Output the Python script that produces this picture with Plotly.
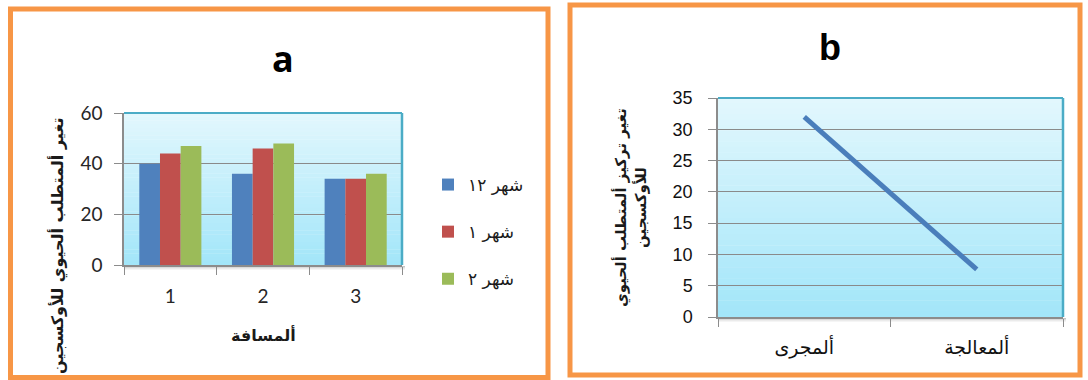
import plotly.graph_objects as go

# ---------------- data ----------------
distance = ["1", "2", "3"]
month_names = ["شهر ١٢", "شهر ١", "شهر ٢"]
month12 = [40, 36, 34]
month1 = [44, 46, 34]
month2 = [47, 48, 36]

sites = ["ألمجرى", "ألمعالجة"]
bod_change = [32, 7.6]

bar_colors = ["#4f81bd", "#c0504d", "#9bbb59"]
W, H = 1088, 380

def px_x(v):
    return v / W

def px_y(v):
    return 1 - v / H

fig = go.Figure()
for name, vals, col in zip(month_names, [month12, month1, month2], bar_colors):
    fig.add_trace(go.Bar(x=distance, y=vals, name=name, marker=dict(color=col, line=dict(width=0)),
                         xaxis="x", yaxis="y", legendgroup=name))

fig.add_trace(go.Scatter(x=sites, y=bod_change, mode="lines", line=dict(color="#4a7ebb", width=5),
                         xaxis="x2", yaxis="y2", showlegend=False))

# domains (pixel measured)
a_x = [px_x(124), px_x(402)]
a_y = [px_y(265), px_y(113)]
b_x = [px_x(718), px_x(1063)]
b_y = [px_y(317), px_y(98)]

tick_font_a = dict(family="Lato, Carlito, sans-serif", size=19, color="#262626")
tick_font_b = dict(family="Liberation Sans, Arial", size=18, color="#111111")
arab = "DejaVu Sans"

shapes = []
# gradient plot backgrounds
def gradient(xref, yref, n=40, top=(0xe2, 0xf7, 0xfd), bot=(0xa3, 0xe6, 0xf9)):
    out = []
    for i in range(n):
        t = i / (n - 1)
        c = tuple(round(top[k] + (bot[k] - top[k]) * t) for k in range(3))
        out.append(dict(type="rect", xref=xref, yref=yref, x0=0, x1=1,
                        y0=1 - (i + 1) / n, y1=1 - i / n + 0.002,
                        fillcolor="rgb(%d,%d,%d)" % c, line=dict(width=0), layer="below"))
    return out

shapes += gradient("x domain", "y domain")
shapes += gradient("x2 domain", "y2 domain")

# shadows under the plot areas
for dom_x, ybot in [(a_x, 265), (b_x, 317)]:
    for k, op in enumerate([0.35, 0.22, 0.12, 0.06]):
        shapes.append(dict(type="rect", xref="paper", yref="paper", x0=dom_x[0], x1=dom_x[1] + 3 / W,
                           y0=px_y(ybot + k + 2), y1=px_y(ybot + k + 1),
                           fillcolor="rgba(90,90,90,%f)" % op, line=dict(width=0), layer="below"))

# teal frame (top & right)
for dx, dy in [(a_x, a_y), (b_x, b_y)]:
    shapes.append(dict(type="line", xref="paper", yref="paper", x0=dx[0], x1=dx[1], y0=dy[1], y1=dy[1],
                       line=dict(color="#4bacc6", width=2)))
    shapes.append(dict(type="line", xref="paper", yref="paper", x0=dx[1], x1=dx[1], y0=dy[0], y1=dy[1],
                       line=dict(color="#4bacc6", width=2.5)))

# orange panel borders
shapes.append(dict(type="rect", xref="paper", yref="paper", x0=px_x(10.5), x1=px_x(548),
                   y0=px_y(377.5), y1=px_y(9), line=dict(color="#f79646", width=5)))
shapes.append(dict(type="rect", xref="paper", yref="paper", x0=px_x(570), x1=px_x(1080),
                   y0=px_y(375), y1=px_y(5), line=dict(color="#f79646", width=5)))

annotations = [
    dict(text="<b>a</b>", x=px_x(283), y=px_y(58), xref="paper", yref="paper", showarrow=False,
         font=dict(family="Open Sans, Lato", size=36, color="black"), xanchor="center", yanchor="middle"),
    dict(text="<b>b</b>", x=px_x(830), y=px_y(47), xref="paper", yref="paper", showarrow=False,
         font=dict(family="Liberation Sans, Arial", size=36, color="black"), xanchor="center", yanchor="middle"),
    dict(text="<b>ألمسافة</b>", x=px_x(263), y=px_y(335), xref="paper", yref="paper", showarrow=False,
         font=dict(family=arab, size=16, color="#1a1a1a"), xanchor="center", yanchor="middle"),
    dict(text="<b>تغير ألمتطلب ألحيوي للأوكسجين</b>", x=px_x(57), y=px_y(116), xref="paper", yref="paper",
         showarrow=False, textangle=-90, font=dict(family=arab, size=16, color="#1a1a1a"),
         xanchor="center", yanchor="top"),
    dict(text="<b>تغير تركيز ألمتطلب ألحيوي<br>للأوكسجين</b>", x=px_x(630), y=px_y(208), xref="paper",
         yref="paper", showarrow=False, textangle=-90, font=dict(family=arab, size=15, color="#1a1a1a"),
         xanchor="center", yanchor="middle"),
]

axis_common = dict(showline=True, linecolor="#8c8c8c", linewidth=1.5, ticks="outside", ticklen=8,
                   tickcolor="#8c8c8c", zeroline=False, fixedrange=True)

fig.update_layout(
    width=W, height=H, margin=dict(l=0, r=0, t=0, b=0, autoexpand=False),
    paper_bgcolor="white", plot_bgcolor="rgba(0,0,0,0)",
    barmode="group", bargap=0.33, bargroupgap=0,
    xaxis=dict(domain=a_x, anchor="y", type="category", tickson="boundaries", showgrid=False,
               tickfont=tick_font_a, ticklabelstandoff=13, **axis_common),
    yaxis=dict(domain=a_y, anchor="x", range=[0, 60], dtick=20, showgrid=True, gridcolor="#8a8a8a",
               gridwidth=1, tickfont=tick_font_a, ticklabelstandoff=8, **axis_common),
    xaxis2=dict(domain=b_x, anchor="y2", type="category", tickson="boundaries", showgrid=False,
                range=[-0.5, 1.5], tickfont=dict(family=arab, size=19, color="#111111"),
                ticklabelstandoff=12, **axis_common),
    yaxis2=dict(domain=b_y, anchor="x2", range=[0, 35], dtick=5, showgrid=True, gridcolor="#8a8a8a",
                gridwidth=1, tickfont=tick_font_b, ticklabelstandoff=12, **axis_common),
    legend=dict(x=px_x(428), y=px_y(232), xanchor="left", yanchor="middle", traceorder="grouped",
                tracegroupgap=22, font=dict(family=arab, size=17, color="#1a1a1a"),
                bgcolor="rgba(0,0,0,0)"),
    shapes=shapes, annotations=annotations, showlegend=True,
)

fig.write_html("out.html")
